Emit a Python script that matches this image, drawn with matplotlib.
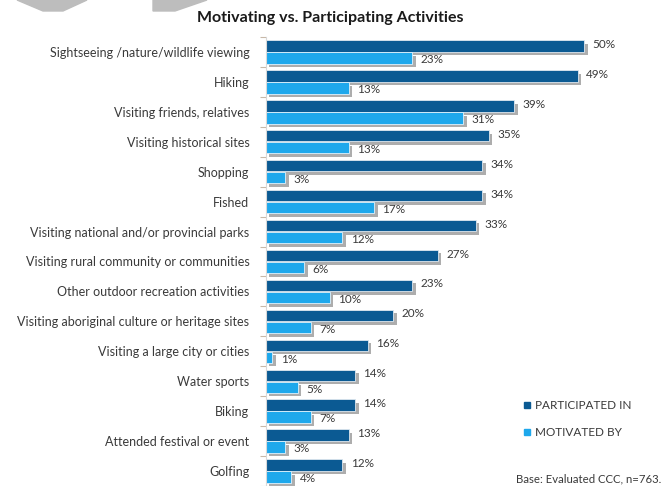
import numpy as np
import matplotlib.pyplot as plt
import matplotlib.patheffects as pe
from matplotlib.patches import Polygon

activities = [
    "Sightseeing /nature/wildlife viewing",
    "Hiking",
    "Visiting friends, relatives",
    "Visiting historical sites",
    "Shopping",
    "Fished",
    "Visiting national and/or provincial parks",
    "Visiting rural community or communities",
    "Other outdoor recreation activities",
    "Visiting aboriginal culture or heritage sites",
    "Visiting a large city or cities",
    "Water sports",
    "Biking",
    "Attended festival or event",
    "Golfing",
]
participated = [50, 49, 39, 35, 34, 34, 33, 27, 23, 20, 16, 14, 14, 13, 12]
motivated = [23, 13, 31, 13, 3, 17, 12, 6, 10, 7, 1, 5, 7, 3, 4]

dark = "#0b5a93"
light = "#1ea8ec"
txt = "#3a3a3a"

plt.rcParams['font.family'] = ['Lato', 'DejaVu Sans']

fig = plt.figure(figsize=(6.7, 4.86), dpi=100)
ax = fig.add_axes([266 / 670, 0, 404 / 670, 449 / 486])

y = np.arange(len(activities))
h = 0.38
shadow = [pe.SimplePatchShadow(offset=(2.5, -2.5), shadow_rgbFace='#8a8a8a', alpha=0.7), pe.Normal()]

b1 = ax.barh(y - h / 2 - 0.01, participated, height=h, color=dark, edgecolor='#dfe8f0',
             linewidth=0.6, path_effects=shadow, label="PARTICIPATED IN")
b2 = ax.barh(y + h / 2 + 0.01, motivated, height=h, color=light, edgecolor='#dff2fc',
             linewidth=0.6, path_effects=shadow, label="MOTIVATED BY")

for bars, vals, dy in ((b1, participated, -0.05), (b2, motivated, 0.06)):
    for bar, v in zip(bars, vals):
        ax.annotate(f"{v}%", (v, bar.get_y() + bar.get_height() / 2 + dy),
                    xytext=(6, 0), textcoords='offset points', va='center', ha='left',
                    fontsize=8.5, color=txt)

ax.set_xlim(0, 63.5)
ax.set_ylim(14.5, -0.47)
ax.set_yticks(y)
ax.set_yticklabels(activities, fontsize=9, color=txt)
ax.tick_params(axis='y', length=0, pad=12)
ax.set_yticks(np.arange(-0.5, 15, 1), minor=True)
ax.tick_params(axis='y', which='minor', length=4, color='#c8b8a8', width=0.8)
ax.set_xticks([])
for s in ('top', 'right', 'bottom'):
    ax.spines[s].set_visible(False)
ax.spines['left'].set_color('#d8d8d8')
ax.spines['left'].set_linewidth(0.8)

fig.text(330 / 670, 1 - 18 / 486, "Motivating vs. Participating Activities", ha='center',
         va='center', fontsize=11.5, fontweight='bold', color='#1a1a1a')

# legend, drawn by hand at the lower right
for i, (lab, c) in enumerate((("PARTICIPATED IN", dark), ("MOTIVATED BY", light))):
    yy = 1 - (405 + 27 * i) / 486
    fig.patches.append(plt.Rectangle((524 / 670, yy - 3 / 486), 6 / 670, 6 / 486,
                                     transform=fig.transFigure, color=c))
    fig.text(535 / 670, yy, lab, ha='left', va='center', fontsize=8.5, color=txt)

fig.text(516 / 670, 1 - 479 / 486, "Base: Evaluated CCC, n=763.", ha='left', va='center',
         fontsize=8.2, color=txt)

# grey shapes in the top left corner
for pts in ([(17, 0), (87, 0), (63, 11), (43, 11)], [(153, 0), (207, 0), (175, 11), (153, 11)]):
    fig.patches.append(Polygon([(px / 670, 1 - py / 486) for px, py in pts],
                               closed=True, transform=fig.transFigure, color='#bdbdbd'))

fig.savefig("out.png", dpi=100)
